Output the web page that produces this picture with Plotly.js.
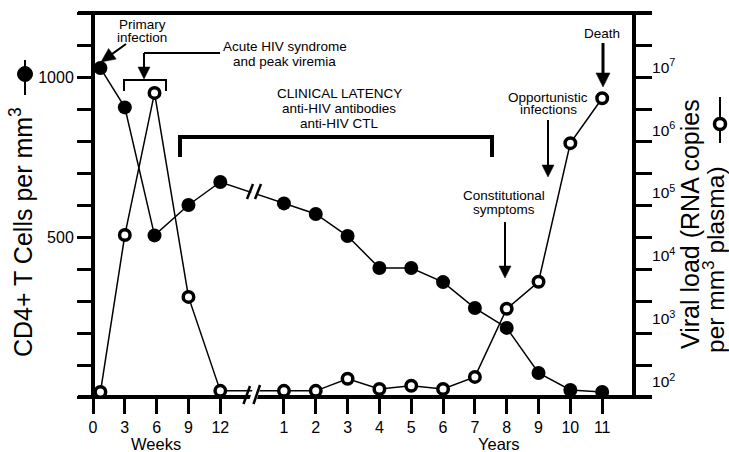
<!DOCTYPE html>
<html>
<head>
<meta charset="utf-8">
<script src="https://cdn.plot.ly/plotly-3.0.1.min.js"></script>
<style>html,body{margin:0;padding:0;background:#fff;}#chart{width:729px;height:452px;}</style>
</head>
<body>
<div id="chart"></div>
<script>
// ---- data ----
const weekTimes = [0.7, 3, 5.8, 9, 12];              // weeks after infection
const yearTimes = [1, 2, 3, 4, 5, 6, 7, 8, 9, 10, 11]; // years after infection
const cd4Weeks = [1028, 905, 505, 600, 672];           // CD4+ T cells per mm3
const cd4Years = [605, 572, 503, 403, 403, 359, 278, 216, 75, 22, 16];
const viralWeeks = [69, 21500, 3900000, 2240, 72];     // RNA copies per mm3 plasma
const viralYears = [72, 72, 112, 77, 87, 77, 120, 1450, 3900, 620000, 3200000];
const weekTickLabels = ['0', '3', '6', '9', '12'];
const weekTickValues = [0, 3, 6, 9, 12];
const yearTickLabels = ['1', '2', '3', '4', '5', '6', '7', '8', '9', '10', '11'];
const cd4TickValues = [500, 1000];
const cd4TickLabels = ['500', '1000'];
const cd4MinorTicks = [0, 100, 200, 300, 400, 600, 700, 800, 900, 1100, 1200];
const viralTickValues = [1e2, 1e3, 1e4, 1e5, 1e6, 1e7];
const viralTickLabels = ['10<sup>2</sup>', '10<sup>3</sup>', '10<sup>4</sup>', '10<sup>5</sup>', '10<sup>6</sup>', '10<sup>7</sup>'];

// broken time axis: 3 weeks per unit, then one unit per year after a gap
const wk = w => w / 3;
const yr = y => y + 5;
const xAll = weekTimes.map(wk).concat(yearTimes.map(yr));
const xTicks = weekTickValues.map(wk).concat(yearTimes.map(yr));
const xTickText = weekTickLabels.concat(yearTickLabels);

// right axis: log range; decorative tick marks line up with the left-axis ticks
const V0 = 1.76, V1 = 7.86;
const minorViral = [];
for (let k = 0; k <= 12; k++) minorViral.push(Math.pow(10, V0 + k * (V1 - V0) / 12));

const FONT = 'Liberation Sans, Arial, Helvetica, sans-serif';
// pixel -> paper helpers for decorations
const L = 93, R = 634, T = 13, B = 397;
const PX = x => (x - L) / (R - L);
const PY = y => (B - y) / (B - T);

const shapes = [];
function seg(x1, y1, x2, y2, w, layer, color) {
  shapes.push({type: 'line', xref: 'paper', yref: 'paper', x0: PX(x1), y0: PY(y1), x1: PX(x2), y1: PY(y2),
    line: {color: color || 'black', width: w}, layer: layer || 'above'});
}
function poly(pts, w, fill, layer) {
  const d = pts.map((p, i) => (i ? 'L' : 'M') + PX(p[0]) + ',' + PY(p[1])).join(' ');
  shapes.push({type: 'path', xref: 'paper', yref: 'paper', path: d + (fill ? ' Z' : ''),
    fillcolor: fill || 'rgba(0,0,0,0)', line: {color: 'black', width: w}, layer: layer || 'above'});
}
function arrow(x1, y1, x2, y2, w, hl, hw) {
  const dx = x2 - x1, dy = y2 - y1, len = Math.hypot(dx, dy);
  const ux = dx / len, uy = dy / len;
  const bx = x2 - ux * hl, by = y2 - uy * hl;
  seg(x1, y1, bx + ux, by + uy, w);
  poly([[x2, y2], [bx - uy * hw, by + ux * hw], [bx + uy * hw, by - ux * hw]], 0.5, 'black');
}
function circ(cx, cy, r, fill, lw) {
  shapes.push({type: 'circle', xref: 'paper', yref: 'paper', x0: PX(cx - r), x1: PX(cx + r), y0: PY(cy + r), y1: PY(cy - r),
    fillcolor: fill, line: {color: 'black', width: lw}, layer: 'above'});
}

// frame
seg(78, 13, 652, 13, 4, 'below');
seg(78, 397, 652, 397, 4, 'below');
seg(93, 13, 93, 397, 4, 'below');
seg(634, 13, 634, 397, 4, 'below');

// axis break on the time axis
seg(251.5, 405, 258, 384, 7, 'above', 'white');
seg(243.5, 404, 250, 386, 2.5);
seg(253.5, 404, 260, 385, 2.5);
// break on the CD4 line
seg(251, 201, 257, 183, 5, 'above', 'white');
seg(247, 199, 253, 184, 2.5);
seg(255, 199, 261, 184, 2.5);

// brackets and arrows
poly([[124, 91], [124, 80], [166, 80], [166, 91]], 2);
seg(144, 53, 220, 53, 2);
arrow(144, 53, 144, 79, 2, 12, 6);
poly([[180, 157], [180, 137], [492, 137], [492, 157]], 4);
arrow(126, 44, 101, 62, 2, 14, 6.5);
arrow(603, 43, 603, 87, 3, 14, 7);
arrow(548, 120, 548, 177, 2, 12, 6);
arrow(505, 222, 505, 278, 2, 12, 6);

// axis-title symbols
seg(25, 60, 25, 95, 2);
circ(25, 74, 7.5, 'black', 1);
seg(720, 97, 720, 143, 2);
circ(720, 124, 5.5, 'white', 3.5);

const annotations = [];
function txt(s, x, y, size, angle) {
  annotations.push({text: s, xref: 'paper', yref: 'paper', x: PX(x), y: PY(y), xanchor: 'center', yanchor: 'middle',
    showarrow: false, textangle: angle || 0, font: {family: FONT, size: size, color: 'black'}});
}
const S = 13.5;
txt('Primary', 142, 24, S); txt('infection', 142, 38, S);
txt('Acute HIV syndrome', 285, 47, S); txt('and peak viremia', 284, 62, S);
txt('CLINICAL LATENCY', 339, 93, S); txt('anti-HIV antibodies', 339, 108, S); txt('anti-HIV CTL', 339, 123, S);
txt('Death', 602, 33, S);
txt('Opportunistic', 548, 97, S); txt('infections', 548, 110, S);
txt('Constitutional', 504, 195, S); txt('symptoms', 504, 210, S);
txt('Weeks', 156, 444, 16.5); txt('Years', 499, 444, 16.5);
txt('CD4+ T Cells per mm<sup>3</sup>', 21, 232, 25, -90);
txt('Viral load (RNA copies', 690, 224, 25, -90);
txt('per mm<sup>3</sup> plasma)', 713, 260, 24.5, -90);

const traces = [
  {x: xAll, y: cd4Weeks.concat(cd4Years), yaxis: 'y', type: 'scatter', mode: 'lines+markers',
   line: {color: 'black', width: 1.5}, marker: {color: 'black', size: 14}, hoverinfo: 'skip'},
  {x: xAll, y: viralWeeks.concat(viralYears), yaxis: 'y2', type: 'scatter', mode: 'lines+markers',
   line: {color: 'black', width: 1.5}, marker: {color: 'white', size: 10.5, line: {color: 'black', width: 3.5}}, hoverinfo: 'skip'}
];

const layout = {
  width: 729, height: 452,
  margin: {l: L, r: 729 - R, t: T, b: 452 - B},
  paper_bgcolor: 'white', plot_bgcolor: 'white', showlegend: false,
  font: {family: FONT, color: 'black'},
  xaxis: {range: [0, 17], tickmode: 'array', tickvals: xTicks, ticktext: xTickText, ticks: 'outside', ticklen: 16,
    tickwidth: 3, tickcolor: 'black', showline: false, showgrid: false, zeroline: false, tickfont: {size: 16}, fixedrange: true},
  yaxis: {range: [0, 1200], tickmode: 'array', tickvals: cd4TickValues, ticktext: cd4TickLabels, ticks: 'outside', ticklen: 15,
    tickwidth: 3, tickcolor: 'black',
    minor: {tickmode: 'array', tickvals: cd4MinorTicks, ticks: 'outside', ticklen: 15, tickwidth: 3, tickcolor: 'black'},
    showline: false, showgrid: false, zeroline: false, tickfont: {size: 16}},
  yaxis2: {overlaying: 'y', side: 'right', type: 'log', range: [V0, V1], tickmode: 'array', tickvals: viralTickValues,
    ticktext: viralTickLabels, ticks: 'outside', ticklen: 14, tickcolor: 'rgba(0,0,0,0)', tickwidth: 3,
    minor: {tickmode: 'array', tickvals: minorViral, ticks: 'outside', ticklen: 17, tickwidth: 3, tickcolor: 'black'},
    showline: false, showgrid: false, zeroline: false, tickfont: {size: 15.5}},
  shapes: shapes,
  annotations: annotations
};
Plotly.newPlot('chart', traces, layout, {staticPlot: true});
</script>
</body>
</html>
